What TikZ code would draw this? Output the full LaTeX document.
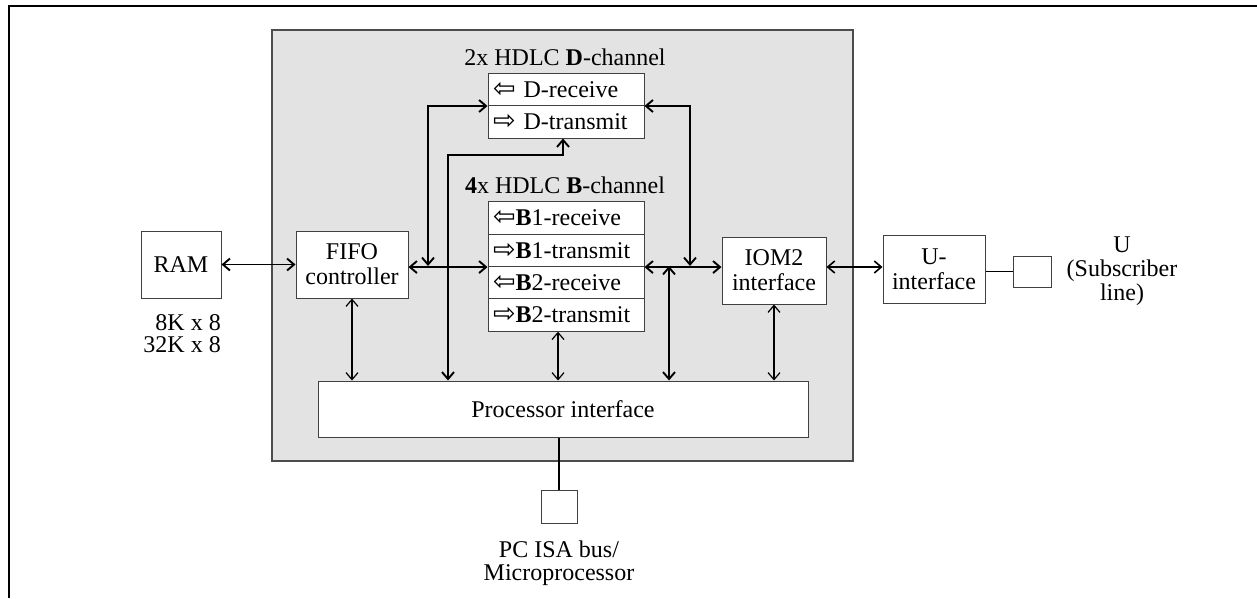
\documentclass[tikz,border=0pt]{standalone}
\usepackage{fontspec}
\setmainfont{Liberation Serif}
\newfontfamily\symf{DejaVu Sans}
\usetikzlibrary{arrows.meta}
\newcommand{\lar}{{\symf\fontsize{27}{27}\selectfont ⇦}}
\newcommand{\rar}{{\symf\fontsize{27}{27}\selectfont ⇨}}
\tikzset{
  box/.style={draw=black!75, line width=1pt, fill=white, rectangle, inner sep=0pt, align=center},
  rowbox/.style={draw=black!75, line width=1pt, fill=white, rectangle, inner xsep=5pt, inner ysep=0pt, text width=146pt, align=left, minimum height=32.3pt},
  lbl/.style={inner sep=0pt, align=center},
  thinc/.style={line width=1.2pt, {Straight Barb[length=7pt,width=12pt]}-{Straight Barb[length=7pt,width=12pt]}},
  midc/.style={line width=1.6pt, {Straight Barb[length=7pt,width=12pt]}-{Straight Barb[length=7pt,width=12pt]}},
  thickc/.style={line width=1.9pt, {Straight Barb[length=7pt,width=12pt]}-{Straight Barb[length=7pt,width=12pt]}},
  plain/.style={line width=1.2pt}
}
\begin{document}
\begin{tikzpicture}[x=1pt,y=-1pt,font=\fontsize{24}{25}\selectfont]
\useasboundingbox (0,0) rectangle (1257,598);
% outer frame (top and left only)
\draw[line width=2.2pt] (9,598) -- (9,6) -- (1257,6);
% gray chip area
\node[draw=black!70, line width=1.2pt, fill=black!11, minimum width=581pt, minimum height=431pt, inner sep=0pt] (chip) at (562.5,245.5) {};

% titles
\node[lbl] (dtitle) at (565,57) {2x HDLC \textbf{D}-channel};
\node[lbl] (btitle) at (565,185) {\textbf{4}x HDLC \textbf{B}-channel};

% D channel rows
\node[rowbox, minimum height=32.5pt] (drx) at (566,89.25) {\lar\ D-receive};
\node[rowbox, minimum height=32.5pt] (dtx) at (566,121.75) {\rar\ D-transmit};

% B channel rows
\node[rowbox] (b1r) at (566,218.1) {\lar\textbf{B}1-receive};
\node[rowbox] (b1t) at (566,250.4) {\rar\textbf{B}1-transmit};
\node[rowbox] (b2r) at (566,282.7) {\lar\textbf{B}2-receive};
\node[rowbox] (b2t) at (566,315) {\rar\textbf{B}2-transmit};

% other blocks
\node[box, minimum width=80pt, minimum height=67pt] (ram) at (181,264.5) {RAM};
\node[lbl, anchor=east] (ramsz1) at (221,323) {8K x 8};
\node[lbl, anchor=east] (ramsz2) at (221,345) {32K x 8};
\node[box, minimum width=112pt, minimum height=67pt] (fifo) at (352,264.5) {FIFO\\controller};
\node[box, minimum width=104pt, minimum height=67pt] (iom) at (774,270.5) {IOM2\\interface};
\node[box, minimum width=102pt, minimum height=68pt] (uif) at (934,269) {U-\\interface};
\node[box, minimum width=38pt, minimum height=31pt] (usq) at (1032,271.5) {};
\node[lbl, font=\fontsize{24}{24}\selectfont] (ulbl) at (1122,271) {U\\(Subscriber\\line)};
\node[box, minimum width=490pt, minimum height=56pt] (proc) at (563,409) {Processor interface};
\node[box, minimum width=36pt, minimum height=33pt] (pcsq) at (559,506.5) {};
\node[lbl, font=\fontsize{24}{23}\selectfont] (pclbl) at (559,563) {PC ISA bus/\\Microprocessor};

% junction coordinates
\coordinate (jl) at (428,266);
\coordinate (jr) at (690,266);
\coordinate (jm) at (669,266);
\coordinate (pa) at (448,155);
\coordinate (pb) at (563,155);
\coordinate (bx) at (558,0);

% connectors
\draw[thickc] (ram.east) -- (fifo.west);
\draw[thickc] (fifo.east |- b1t.south west) -- (b1t.south west);
\draw[thickc] (jl) |- (drx.south west);
\draw[thickc] (drx.south east) -| (jr);
\draw[thickc] (b1t.south east) -- (iom.west |- b1t.south east);
\draw[thickc] (jm) -- (jm |- proc.north);
\draw[thickc] (pa |- proc.north) -- (pa) -- (pb) -- (pb |- dtx.south);
\draw[thinc] (fifo.south) -- (fifo.south |- proc.north);
\draw[thinc] (b2t.south -| bx) -- (bx |- proc.north);
\draw[thinc] (iom.south) -- (iom.south |- proc.north);
\draw[midc] (iom.east |- 0,267) -- (uif.west |- 0,267);
\draw[plain] (uif.east |- usq.west) -- (usq.west);
\draw[line width=1.6pt] (pcsq.north |- proc.south) -- (pcsq.north);
\end{tikzpicture}
\end{document}
